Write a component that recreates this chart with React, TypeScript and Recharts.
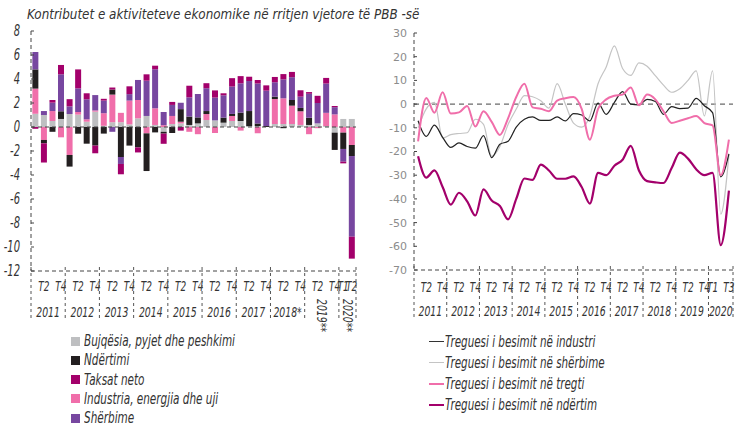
import React from 'react';
import { BarChart, Bar, LineChart, Line, XAxis, YAxis, ReferenceLine } from 'recharts';

const FONT = '"Liberation Sans Narrow", "DejaVu Sans Condensed", Roboto, sans-serif';
const SX = 0.74; // horizontal squeeze to mimic the condensed face

// left chart: contributions by sector, 2011 T1 - 2020 T2
const barYears = ['2011', '2012', '2013', '2014', '2015', '2016', '2017', '2018*', '2019**', '2020**'];
const barYearCounts = [4, 4, 4, 4, 4, 4, 4, 4, 4, 2];
const barTickLabels = ['', 'T2', '', 'T4'];
const barTickLabels2020 = ['T1', 'T2'];

const bujqesia = [1.1, 1.0, 0.5, 0.67, 1.08, 1.03, 0.44, 1.28, 0.1, 0.4, 0.4, 0.22, 0.72, 0.92, 0.17, -0.4, 0.25, 0.3, 0.17, 0.3, 0.58, 0.55, 0.36, 0.5, 0.5, 0.08, 0.08, 0, 0.25, 0.25, 0.25, 0.17, 0.17, 0.3, 0.08, -0.47, 0.67, 0.67];
const industria = [2.1, -1.08, 0.83, -0.86, -2.33, 0.22, 0.2, 0.1, 1.05, 2.3, 0.78, 1.98, 1.53, -0.53, 1.39, 0.15, 0.67, 0.14, -0.4, -0.6, 0.5, -0.5, 0, 0.42, -0.3, 0, -0.53, 0, 2.08, 2.14, 1.53, 1.14, -0.6, -0.1, 1.1, 1.05, -0.47, -1.5];
const ndertimi = [1.6, -0.28, -0.4, 0.64, -0.97, -0.56, -1.39, -1.55, -0.55, 0.42, -2.5, -1.55, -1.7, -3.14, -0.45, -0.15, -0.5, 1.05, 0.7, 0.5, 0.25, 0, 0.42, 0.17, 0.7, 1.25, 0.22, 0.08, 0.2, -0.1, 0.47, 0.28, 0.6, 0, 0, -1.44, -1.36, -0.92];
const sherbime = [1.45, 0.33, 0.7, 3.08, 0.64, 1.97, 1.67, 1.28, 1.05, -0.4, -0.58, 0.54, 1.67, 2.94, 3.25, 1.1, 0.92, 0.53, 1.6, 1.95, 1.9, 1.9, 1.86, 2.28, 2.44, 2.5, 3.33, 2.95, 1.2, 1.58, 1.9, 0.94, 2.0, 1.7, 2.44, 0.6, -1.06, -6.72];
const taksat = [-0.15, -1.6, 0.22, 0.78, 0.6, 1.58, 0.5, -0.64, 0.15, 0.17, -0.86, 0.65, -0.42, 0.53, 0.3, -0.85, 0.25, -0.3, 0.97, 0, 0.42, 0.6, 0.17, 0.7, 0.6, 0.36, 0.28, 0.44, 0.44, 0.44, 0.44, 0.53, 0.14, 0.6, 0.47, 0.1, -0.14, -1.83];

// right chart: confidence indicators, 2011 T1 - 2020 T3
const lineYears = ['2011', '2012', '2013', '2014', '2015', '2016', '2017', '2018', '2019', '2020'];
const lineYearCounts = [4, 4, 4, 4, 4, 4, 4, 4, 4, 3];
const lineTickLabels = ['', 'T2', '', 'T4'];
const lineTickLabels2020 = ['T1', '', 'T3'];

const industri = [-7, -13.6, -8.9, -14, -18.3, -16.4, -17.9, -18.6, -13.3, -22.6, -16.9, -15.7, -9.7, -6.4, -5.4, -6.9, -6.9, -5.4, -7.1, -4, -4.6, -7.1, 0.4, -4.3, 0.7, 5.3, 0, -0.3, 2, 1.1, -4.3, -1.1, -1.9, -1.7, 2.4, -0.7, -3.6, -30.7, -21];
const sherbimeIdx = [-10, -2, 0.7, -14.3, -12.9, -12.4, -12.1, -6.4, -8.6, -22, -17.9, -8.6, -2.1, 3.6, 3.1, 1.4, -1.7, 8.6, 0, -8, -9.7, -5, 8.6, 15.7, 24.6, 15, 12.1, 17.4, 16, 12, 8, 5, 6.5, 10, 14, -5, 14, -46.4, -21.4];
const tregti = [-15.7, 2.6, -3.6, 5, -4, -3.5, -0.8, -9.5, -3, -7.5, -13, -6, 3, 8.6, -1.4, -2, -3, 1.5, 2.5, 3, -2, -15, -2, 2, 3.5, 4, 7, -0.5, 4, 2, -3, -8, -7, -6, -5, -8, -9, -30, -15];
const ndertim = [-22, -31, -28, -35, -42.4, -37.4, -41, -47, -36, -40.7, -43, -48.6, -40, -31.4, -32, -25.5, -28, -31.5, -31.5, -30.5, -35, -42, -29, -30, -26, -23.5, -17.6, -28, -32.5, -33, -33.3, -27, -20.5, -23, -27.5, -30, -29, -59.5, -36.5];

const barTicks = [-12, -10, -8, -6, -4, -2, 0, 2, 4, 6, 8];
const lineTicks = [-70, -60, -50, -40, -30, -20, -10, 0, 10, 20, 30];

const C_GRAY = '#bebfc1';
const C_BLACK = '#231f20';
const C_MAG = '#a3006b';
const C_PINK = '#f06eaa';
const C_PURPLE = '#7747a0';

type Row = { key: string; tl: string; year: string; first: boolean; last: boolean; count: number };

function buildRows(years: string[], counts: number[], labels: string[], lastLabels: string[]): Row[] {
  const rows: Row[] = [];
  years.forEach((y, yi) => {
    for (let q = 0; q < counts[yi]; q++) {
      rows.push({
        key: `${y}-${q + 1}`,
        tl: yi === years.length - 1 ? lastLabels[q] : labels[q],
        year: y,
        first: q === 0,
        last: yi === years.length - 1 && q === counts[yi] - 1,
        count: counts[yi],
      });
    }
  });
  return rows;
}

const barRows = buildRows(barYears, barYearCounts, barTickLabels, barTickLabels2020);
const lineRows = buildRows(lineYears, lineYearCounts, lineTickLabels, lineTickLabels2020);

const barData = barRows.map((r, i) => ({
  key: r.key,
  bujqesia: bujqesia[i],
  industria: industria[i],
  ndertimi: ndertimi[i],
  sherbime: sherbime[i],
  taksat: taksat[i],
}));

const lineData = lineRows.map((r, i) => ({
  key: r.key,
  industri: industri[i],
  sherbime: sherbimeIdx[i],
  tregti: tregti[i],
  ndertim: ndertim[i],
}));

const txt = { fontFamily: FONT, fontStyle: 'italic', fill: '#333' } as const;

const makeTick = (rows: Row[], band: number, tY: number, yY: number) => (props: any) => {
  const { x, y, index } = props;
  const r = rows[index];
  if (!r) return <g />;
  const dash = { stroke: '#555', strokeWidth: 1, strokeDasharray: '3 3' };
  const mid = x + ((r.count - 1) / 2) * band;
  const rotated = r.year.endsWith('**');
  return (
    <g>
      {r.first && <line x1={x - band / 2} x2={x - band / 2} y1={y - 4} y2={y + 48} {...dash} />}
      {r.last && <line x1={x + band / 2} x2={x + band / 2} y1={y - 4} y2={y + 48} {...dash} />}
      {r.tl && (
        <text transform={`translate(${x},${y + tY}) scale(${SX},1)`} textAnchor="middle" fontSize={13.5} {...txt}>
          {r.tl}
        </text>
      )}
      {r.first && !rotated && (
        <text transform={`translate(${mid},${y + yY}) scale(${SX},1)`} textAnchor="middle" fontSize={14} {...txt}>
          {r.year}
        </text>
      )}
      {r.first && rotated && (
        <text
          transform={`translate(${mid},${y + 28}) rotate(90) scale(${SX},1)`}
          textAnchor="start"
          dominantBaseline="central"
          fontSize={14}
          {...txt}
        >
          {r.year}
        </text>
      )}
    </g>
  );
};

const LeftYTick = (props: any) => {
  const { x, y, payload } = props;
  return (
    <g>
      <line x1={x + 11} x2={x + 14} y1={y} y2={y} stroke="#444" />
      <text transform={`translate(${x},${y}) scale(${SX},1)`} textAnchor="end" dy="0.36em" fontSize={15} {...txt}>
        {payload.value}
      </text>
    </g>
  );
};

const RightYTick = (props: any) => {
  const { x, y, payload } = props;
  return (
    <g>
      <line x1={x + 7} x2={x + 10} y1={y} y2={y} stroke="#444" />
      <text x={x} y={y} textAnchor="end" dy="0.36em" fontSize={11} fontFamily='"DejaVu Sans", sans-serif' fill="#8c8c8c">
        {payload.value}
      </text>
    </g>
  );
};

const barBand = 325 / barRows.length;
const lineBand = 318.4 / lineRows.length;

const legendBars = [
  { name: 'Bujqësia, pyjet dhe peshkimi', color: C_GRAY },
  { name: 'Ndërtimi', color: C_BLACK },
  { name: 'Taksat neto', color: C_MAG },
  { name: 'Industria, energjia dhe uji', color: C_PINK },
  { name: 'Shërbime', color: C_PURPLE },
];

const legendLines = [
  { name: 'Treguesi i besimit në industri', color: '#333', w: 1 },
  { name: 'Treguesi i besimit në shërbime', color: '#c4c4c4', w: 1.5 },
  { name: 'Treguesi i besimit në tregti', color: C_PINK, w: 2 },
  { name: 'Treguesi i besimit në ndërtim', color: C_MAG, w: 2.5 },
];

export default function App() {
  const axisDash = { stroke: '#444', strokeDasharray: '4 3' };
  return (
    <div style={{ position: 'absolute', left: 0, top: 0, width: 736, height: 427, overflow: 'hidden', background: '#fff', fontFamily: FONT }}>
      <div style={{ position: 'absolute', left: 27, top: 7, fontSize: 13.3, fontStyle: 'italic', color: '#333', whiteSpace: 'nowrap' }}>
        Kontributet e aktiviteteve ekonomike në rritjen vjetore të PBB -së
      </div>

      <div style={{ position: 'absolute', left: 0, top: 0 }}>
        <BarChart
          width={370}
          height={340}
          data={barData}
          stackOffset="sign"
          barCategoryGap="16%"
          margin={{ top: 31, right: 14, bottom: 9, left: 0 }}
        >
          <XAxis
            dataKey="key"
            interval={0}
            height={60}
            axisLine={axisDash}
            tickLine={false}
            tickSize={0}
            tickMargin={0}
            tick={makeTick(barRows, barBand, 20, 46)}
          />
          <YAxis
            width={31}
            domain={[-12, 8]}
            ticks={barTicks}
            interval={0}
            axisLine={axisDash}
            tickLine={false}
            tickSize={0}
            tickMargin={11}
            tick={<LeftYTick />}
          />
          <ReferenceLine y={0} stroke="#444" strokeDasharray="4 3" />
          <Bar dataKey="bujqesia" stackId="s" fill={C_GRAY} isAnimationActive={false} />
          <Bar dataKey="industria" stackId="s" fill={C_PINK} isAnimationActive={false} />
          <Bar dataKey="ndertimi" stackId="s" fill={C_BLACK} isAnimationActive={false} />
          <Bar dataKey="sherbime" stackId="s" fill={C_PURPLE} isAnimationActive={false} />
          <Bar dataKey="taksat" stackId="s" fill={C_MAG} isAnimationActive={false} />
        </BarChart>
      </div>

      <div style={{ position: 'absolute', left: 370, top: 0 }}>
        <LineChart width={366} height={340} data={lineData} margin={{ top: 33, right: 3, bottom: 10, left: 0 }}>
          <XAxis
            dataKey="key"
            interval={0}
            height={60}
            padding={{ left: lineBand / 2, right: lineBand / 2 }}
            axisLine={axisDash}
            tickLine={false}
            tickSize={0}
            tickMargin={0}
            tick={makeTick(lineRows, lineBand, 22, 46)}
          />
          <YAxis
            width={44}
            domain={[-70, 30]}
            ticks={lineTicks}
            interval={0}
            axisLine={axisDash}
            tickLine={false}
            tickSize={0}
            tickMargin={7}
            tick={<RightYTick />}
          />
          <ReferenceLine y={0} stroke="#444" strokeDasharray="5 4" />
          <Line type="monotone" dataKey="sherbime" stroke="#c4c4c4" strokeWidth={1.2} dot={false} isAnimationActive={false} />
          <Line type="monotone" dataKey="industri" stroke="#222" strokeWidth={1.2} dot={false} isAnimationActive={false} />
          <Line type="monotone" dataKey="tregti" stroke={C_PINK} strokeWidth={2} dot={false} isAnimationActive={false} />
          <Line type="monotone" dataKey="ndertim" stroke={C_MAG} strokeWidth={2.2} dot={false} isAnimationActive={false} />
        </LineChart>
      </div>

      {legendBars.map((l, i) => (
        <div key={l.name} style={{ position: 'absolute', left: 71, top: 332 + i * 19.3, height: 18, display: 'flex', alignItems: 'center', whiteSpace: 'nowrap' }}>
          <span style={{ display: 'inline-block', width: 9, height: 9, background: l.color, marginRight: 4 }} />
          <span style={{ display: 'inline-block', fontSize: 15, fontStyle: 'italic', color: '#333', transform: 'scaleX(0.775)', transformOrigin: 'left center' }}>{l.name}</span>
        </div>
      ))}

      {legendLines.map((l, i) => (
        <div key={l.name} style={{ position: 'absolute', left: 429, top: 332 + i * 21.3, height: 18, display: 'flex', alignItems: 'center', whiteSpace: 'nowrap' }}>
          <span style={{ display: 'inline-block', width: 15, height: l.w, background: l.color, marginRight: 1 }} />
          <span style={{ display: 'inline-block', fontSize: 16, fontStyle: 'italic', color: '#333', transform: 'scaleX(0.72)', transformOrigin: 'left center' }}>{l.name}</span>
        </div>
      ))}
    </div>
  );
}
